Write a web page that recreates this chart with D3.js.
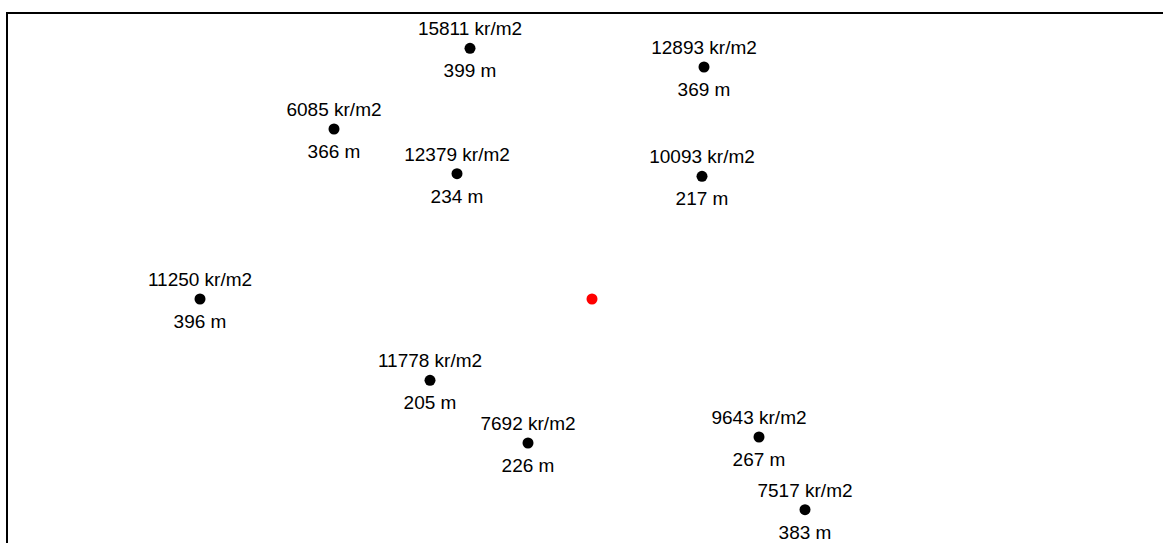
<!DOCTYPE html>
<html>
<head>
<meta charset="utf-8">
<script src="https://cdn.jsdelivr.net/npm/d3@7"></script>
<style>
  body { margin: 0; background: #fff; overflow: hidden; }
  svg { display: block; }
  text { font-family: "Liberation Sans", Arial, sans-serif; font-size: 19px; fill: #000; }
</style>
</head>
<body>
<svg></svg>
<script>
// Listings around the red centre point: offsets in metres (east, north)
const prices = [15811, 12893, 6085, 12379, 10093, 11250, 11778, 7692, 9643, 7517];
const distances = [399, 369, 366, 234, 217, 396, 205, 226, 267, 383];
const east = [-122, 112, -258, -135, 110, -392, -162, -64, 167, 213];
const north = [376, 348, 255, 188, 184, 0, -122, -216, -207, -316];

const W = 1163, H = 543;

const svg = d3.select("svg")
  .attr("width", W)
  .attr("height", H);

// Frame (runs past the window on the right and bottom)
svg.append("rect")
  .attr("x", 7)
  .attr("y", 13)
  .attr("width", 1200)
  .attr("height", 600)
  .attr("fill", "none")
  .attr("stroke", "#000")
  .attr("stroke-width", 2);

// Scales: metres -> pixels
const xScale = d3.scaleLinear().domain([-400, 400]).range([192, 992]);
const yScale = d3.scaleLinear().domain([-300, 300]).range([499, 99]);

const data = prices.map((p, i) => ({
  price: p,
  dist: distances[i],
  e: east[i],
  n: north[i]
}));

const g = svg.append("g");

const pts = g.selectAll(".pt")
  .data(data)
  .enter()
  .append("g")
  .attr("class", "pt")
  .attr("transform", d => `translate(${xScale(d.e)}, ${yScale(d.n)})`);

pts.append("circle")
  .attr("r", 5.5)
  .attr("fill", "#000");

pts.append("text")
  .attr("y", -13)
  .attr("text-anchor", "middle")
  .text(d => `${d.price} kr/m2`);

pts.append("text")
  .attr("y", 29)
  .attr("text-anchor", "middle")
  .text(d => `${d.dist} m`);

// Centre point
g.append("circle")
  .attr("cx", xScale(0))
  .attr("cy", yScale(0))
  .attr("r", 5.5)
  .attr("fill", "red");
</script>
</body>
</html>
